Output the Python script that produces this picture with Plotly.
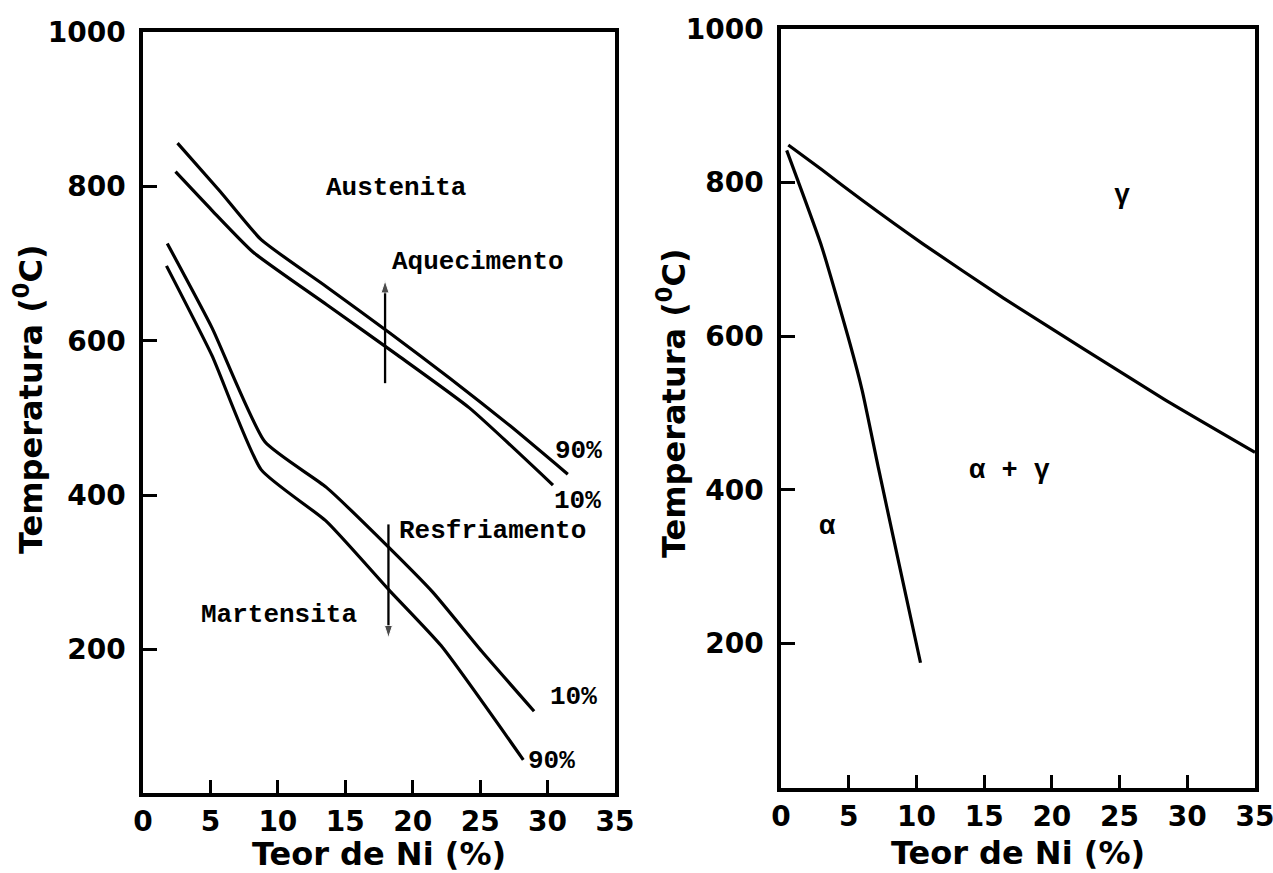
import plotly.graph_objects as go

# ---------- Left panel data (Teor de Ni %, Temperatura °C) ----------
heat90_x = [2.56, 5.74, 8.76, 13.6, 18.3, 22.7, 27.2, 31.5]
heat90_y = [856, 793, 731, 670, 610, 552, 490, 427]
heat10_x = [2.41, 5.11, 8.15, 13.6, 18.9, 24.2, 30.4]
heat10_y = [819, 769, 715, 647, 581, 513, 413]
cool10_x = [1.8, 5.11, 9.04, 13.6, 18.3, 21.5, 25.1, 29.0]
cool10_y = [726, 617, 469, 410, 331, 274, 198, 120]
cool90_x = [1.74, 5.11, 8.76, 13.6, 18.3, 22.1, 28.2]
cool90_y = [697, 581, 433, 366, 276, 205, 57]

# arrows (x, y_start, y_end)
heat_arrow = [17.95, 545, 678]
cool_arrow = [18.2, 362, 215]

# ---------- Right panel data ----------
gamma_x = [0.54, 3.0, 6.0, 10.5, 16.4, 22.4, 28.3, 35.0]
gamma_y = [849, 817, 777, 720, 650, 583, 518, 449]
alpha_x = [0.42, 3.0, 5.1, 6.0, 7.2, 8.7, 10.3]
alpha_y = [842, 717, 590, 529, 428, 305, 175]

x_ticks = [0, 5, 10, 15, 20, 25, 30, 35]
y_ticks = [200, 400, 600, 800, 1000]

left_labels = [
    ("Austenita", 18.75, 798, "center"),
    ("Aquecimento", 18.3, 702, "left"),
    ("Resfriamento", 18.8, 353, "left"),
    ("Martensita", 4.15, 245, "left"),
    ("90%", 30.4, 457, "left"),
    ("10%", 30.3, 392, "left"),
    ("10%", 30.0, 139, "left"),
    ("90%", 28.4, 55, "left"),
]
right_labels = [
    ("γ", 25.2, 782),
    ("α + γ", 16.9, 424),
    ("α", 3.45, 352),
]

W, H = 1273, 873
LINE = dict(color="black", width=3.2, shape="spline", smoothing=0.5)

fig = go.Figure()
for xs, ys in [(heat90_x, heat90_y), (heat10_x, heat10_y),
               (cool10_x, cool10_y), (cool90_x, cool90_y)]:
    fig.add_trace(go.Scatter(x=xs, y=ys, mode="lines", line=LINE,
                             xaxis="x", yaxis="y", showlegend=False, hoverinfo="skip"))
for xs, ys in [(gamma_x, gamma_y), (alpha_x, alpha_y)]:
    fig.add_trace(go.Scatter(x=xs, y=ys, mode="lines", line=LINE,
                             xaxis="x2", yaxis="y2", showlegend=False, hoverinfo="skip"))

for ax_, y0, y1 in [heat_arrow, cool_arrow]:
    fig.add_trace(go.Scatter(
        x=[ax_, ax_], y=[y0, y1], mode="lines+markers",
        line=dict(color="black", width=2.3),
        marker=dict(symbol="arrow", size=[0, 13], color="black", angleref="previous"),
        xaxis="x", yaxis="y", showlegend=False, hoverinfo="skip"))

tickfont = dict(family="DejaVu Sans", size=28, color="black", weight="bold")
titlefont = dict(family="DejaVu Sans", size=32, color="black", weight="bold")

def xaxis(domain, anchor):
    return dict(domain=domain, anchor=anchor, range=[0, 35], tickvals=x_ticks,
                ticks="inside", ticklen=13, tickwidth=2.5, tickcolor="black",
                showline=True, linecolor="black", linewidth=3.5, mirror=True,
                showgrid=False, zeroline=False, tickfont=tickfont,
                ticklabelstandoff=1, ticklabeloverflow="allow",
                title=dict(text="Teor de Ni (%)", font=titlefont, standoff=10),
                automargin=False, fixedrange=True)

def yaxis(domain, anchor, rng):
    return dict(domain=domain, anchor=anchor, range=rng, tickvals=y_ticks,
                ticks="inside", ticklen=14, tickwidth=2.5, tickcolor="black",
                showline=True, linecolor="black", linewidth=3.5, mirror=True,
                showgrid=False, zeroline=False, tickfont=tickfont,
                ticklabelstandoff=8, ticklabeloverflow="allow",
                automargin=False, fixedrange=True)

fig.update_layout(
    width=W, height=H,
    margin=dict(l=0, r=0, t=0, b=0),
    paper_bgcolor="white", plot_bgcolor="white",
    xaxis=xaxis([143 / W, 615 / W], "y"),
    yaxis=yaxis([1 - 793 / H, 1 - 32 / H], "x", [14, 1000]),
    xaxis2=xaxis([781 / W, 1255 / W], "y2"),
    yaxis2=yaxis([1 - 788 / H, 1 - 29 / H], "x2", [12, 1000]),
    showlegend=False,
)

# y-axis titles (placed at their positions in the reference)
for xc, yc in [(29, 399), (672, 403)]:
    fig.add_annotation(x=xc / W, y=1 - yc / H, xref="paper", yref="paper",
                       text="Temperatura (<sup>0</sup>C)", textangle=-90,
                       showarrow=False, xanchor="center", yanchor="middle",
                       font=titlefont)

mono = dict(family="Liberation Mono", size=26, color="black", weight="bold")
for txt, x, y, anc in left_labels:
    fig.add_annotation(x=x, y=y, xref="x", yref="y", text=txt, showarrow=False,
                       xanchor=anc, yanchor="middle", font=mono)
greek = dict(family="Liberation Mono", size=27, color="black", weight="bold")
for txt, x, y in right_labels:
    fig.add_annotation(x=x, y=y, xref="x2", yref="y2", text=txt, showarrow=False,
                       xanchor="center", yanchor="middle", font=greek)

fig.write_html("out.html")
